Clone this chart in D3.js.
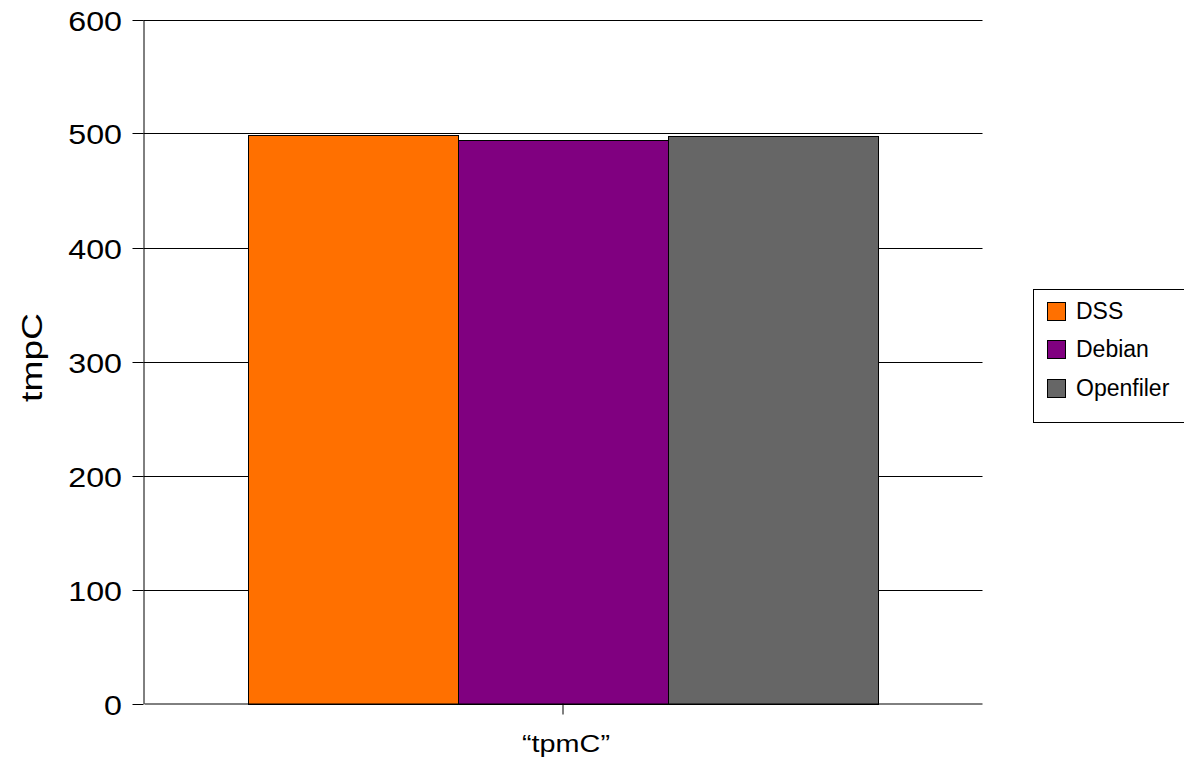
<!DOCTYPE html>
<html><head><meta charset="utf-8">
<script src="https://cdn.jsdelivr.net/npm/d3@7"></script>
<style>body{margin:0;background:#fff}svg{display:block}text{font-family:"Liberation Sans",Arial,sans-serif;fill:#000}</style>
</head><body>
<script>
const categories = ["\u201ctpmC\u201d"];
const seriesNames = ["DSS", "Debian", "Openfiler"];
const seriesColors = ["#ff7000", "#800080", "#666666"];
const DSS = [499];
const Debian = [494];
const Openfiler = [498];
const yTicks = [0, 100, 200, 300, 400, 500, 600];
const yTitle = "tmpC";

const values = [DSS, Debian, Openfiler];
const W = 1184, H = 765;
const m = {left:143.5, right:982.5, top:19.5, bottom:703.5};
const svg = d3.select("body").append("svg").attr("width", W).attr("height", H);

const y = d3.scaleLinear().domain([0, 600]).range([m.bottom, m.top]);
const xOuter = d3.scaleBand().domain(categories).range([m.left + 0.5, m.right - 0.5]).padding(0);
const groupFrac = 630 / 839;
const x1 = d3.scaleBand().domain(seriesNames).range([0, xOuter.bandwidth() * groupFrac]);
const groupOffset = xOuter.bandwidth() * (1 - groupFrac) / 2;

// gridlines
svg.append("g").selectAll("line").data(yTicks.filter(d => d > 0)).join("line")
  .attr("x1", m.left).attr("x2", m.right)
  .attr("y1", d => Math.round(y(d)) + 0.5).attr("y2", d => Math.round(y(d)) + 0.5)
  .attr("stroke", "#000").attr("stroke-width", 1);

// bars
const g = svg.append("g");
categories.forEach((c, ci) => {
  seriesNames.forEach((s, si) => {
    const v = values[si][ci];
    g.append("rect")
      .attr("x", Math.round(xOuter(c) + groupOffset + x1(s)) + 0.5)
      .attr("y", Math.round(y(v)) + 0.5)
      .attr("width", Math.round(x1.bandwidth()))
      .attr("height", Math.round(y(0)) - Math.round(y(v)))
      .attr("fill", seriesColors[si]).attr("stroke", "#000").attr("stroke-width", 1);
  });
});

// y axis
const yStretch = 1.15;
const yAxis = d3.axisLeft(y).tickValues(yTicks).tickSize(11).tickSizeOuter(0);
const ya = svg.append("g").attr("transform", `translate(${m.left},0)`).call(yAxis);
ya.select(".domain").attr("stroke", "#000");
ya.selectAll(".tick line").attr("stroke", "#000");
ya.selectAll(".tick").attr("transform", d => `translate(0,${Math.round(y(d)) + 0.5})`);
ya.selectAll("text").style("font-size", "28px")
  .style("font-family", '"Liberation Sans",Arial,sans-serif').attr("fill", "#000")
  .attr("dy", "0.36em").attr("x", -21.5 / yStretch).attr("transform", `scale(${yStretch},1)`);

// x axis
const xStretch = 1.2;
const xAxis = d3.axisBottom(xOuter).tickSize(11).tickSizeOuter(0);
const xa = svg.append("g").attr("transform", `translate(0,${m.bottom})`).call(xAxis);
xa.select(".domain").attr("stroke", "#000");
xa.selectAll(".tick line").attr("stroke", "#000");
xa.selectAll("text").attr("y", 49).attr("dy", 0).attr("x", 3 / xStretch)
  .attr("transform", `scale(${xStretch},1)`)
  .style("font-size", "24px")
  .style("font-family", '"Liberation Sans",Arial,sans-serif').attr("fill", "#000");

// y title
svg.append("text").attr("transform", `translate(42,357.5) rotate(-90) scale(1.24,1)`)
  .attr("text-anchor", "middle").style("font-size", "30px").text(yTitle);

// legend
const lg = svg.append("g");
lg.append("rect").attr("x", 1033.5).attr("y", 289.5).attr("width", 160).attr("height", 133)
  .attr("fill", "#fff").attr("stroke", "#000");
seriesNames.forEach((s, i) => {
  const cy = 310.5 + i * 38.5;
  lg.append("rect").attr("x", 1047.5).attr("y", Math.round(cy - 9) + 0.5).attr("width", 18).attr("height", 18)
    .attr("fill", seriesColors[i]).attr("stroke", "#000");
  lg.append("text").attr("x", 1076).attr("y", cy).attr("dy", "0.36em")
    .style("font-size", "23px").text(s);
});
</script>
</body></html>
